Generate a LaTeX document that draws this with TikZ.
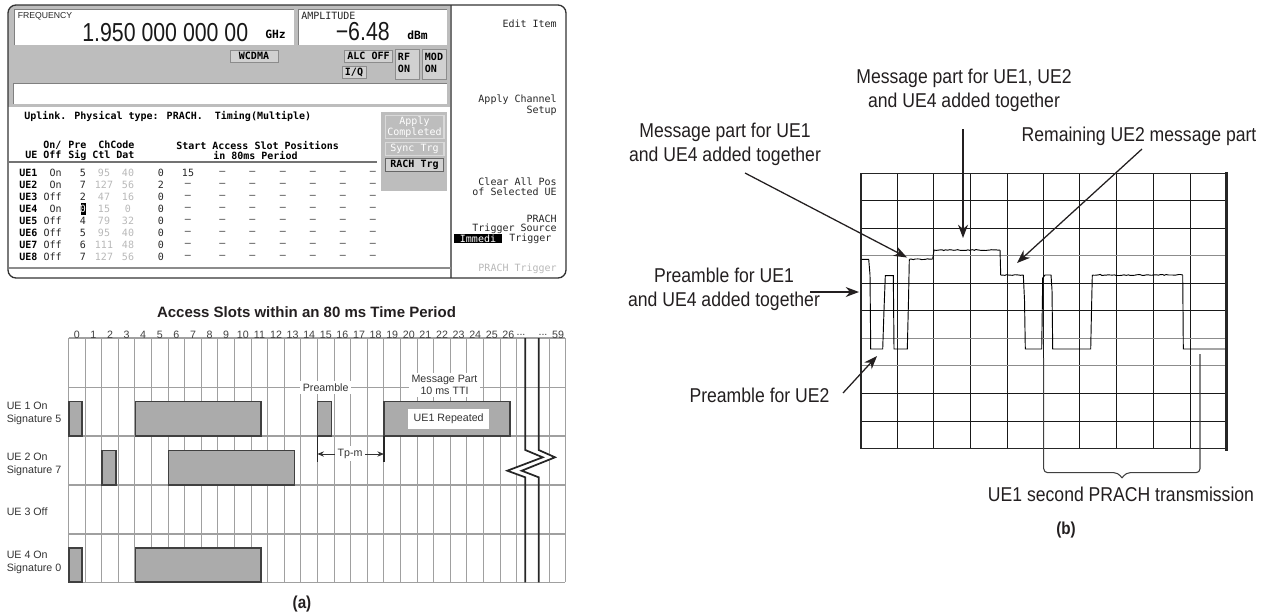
\documentclass[tikz,border=0pt]{standalone}
\usepackage{fontspec}
\setmainfont{Liberation Sans}
\newfontfamily\monof{DejaVu Sans Mono}
\newfontfamily\condf[FakeStretch=0.88]{Liberation Sans}
\newfontfamily\tallf[FakeStretch=0.82]{Liberation Sans}
\usetikzlibrary{arrows.meta,decorations.pathmorphing}
\definecolor{panelgray}{HTML}{BDBDBD}
\definecolor{bargray}{HTML}{ABABAB}
\definecolor{gridgray}{HTML}{A0A0A0}
\definecolor{dimtext}{HTML}{B8B8B8}
\definecolor{ink}{HTML}{231F20}
\tikzset{
 x=0.75pt,y=-0.75pt,
 mt/.style={inner sep=0pt,font=\monof\fontsize{7.5}{9}\selectfont,text=black!85},
 mb/.style={inner sep=0pt,font=\monof\bfseries\fontsize{7.5}{9}\selectfont,text=black},
 dim/.style={mt,text=dimtext},
 btn/.style={fill=panelgray!70!white,draw=black!45,line width=0.7pt},
 lab/.style={inner sep=0pt,font=\fontsize{8}{9.6}\selectfont,text=black!80,anchor=west},
 tick/.style={inner sep=0pt,font=\fontsize{8}{9.6}\selectfont,text=black!75},
 bar/.style={fill=bargray,draw=black!75,line width=0.85pt},
 gline/.style={draw=gridgray,line width=0.8pt},
 note/.style={inner sep=0pt,font=\condf\fontsize{15}{18}\selectfont,text=ink,align=center},
 callout/.style={draw=ink,line width=0.95pt,-{Stealth[length=10pt,width=7.5pt]}},
 scopeline/.style={draw=black!90,line width=0.55pt},
 scopegray/.style={draw=black!45,line width=0.8pt},
 trace/.style={draw=black,line width=0.7pt},
 noisy/.style={trace,decorate,decoration={random steps,segment length=1.5pt,amplitude=0.4pt}},
 breakline/.style={draw=black!85,line width=1.3pt,line join=miter},
 tparrow/.style={draw=black!80,line width=0.7pt,-{Stealth[length=5pt,width=4pt]}},
}
\begin{document}
\begin{tikzpicture}
\useasboundingbox (0,0) rectangle (1266,615);
% ---------- instrument screen
\begin{scope}
 \clip[rounded corners=6pt] (8,5) rectangle (566,278);
 \fill[panelgray] (8,5) rectangle (451,107);
\end{scope}
\fill[white] (14,9) rectangle (294,45);
\fill[white] (298,9) rectangle (447,45);
\fill[white] (13,83) rectangle (447,104);
\draw[black!50,line width=0.6pt] (14,45)--(14,9)--(294,9);
\draw[black!50,line width=0.6pt] (298,45)--(298,9)--(447,9);
\draw[black!50,line width=0.6pt] (13,104)--(13,83)--(447,83);
\draw[black!55,line width=0.9pt] (451,5)--(451,278);
\draw[black!80,line width=1pt,rounded corners=6pt] (8,5) rectangle (566,278);
\node[inner sep=0pt,anchor=west,font=\fontsize{6.5}{8}\selectfont,text=black!85] (freqlab) at (17.5,16) {FREQUENCY};
\node[inner sep=0pt,anchor=west,font=\tallf\fontsize{19.5}{22}\selectfont,text=black!90] (freqval) at (82,33) {1.950 000 000 00};
\node[mb,anchor=west,font=\monof\bfseries\fontsize{8.5}{10}\selectfont] (ghz) at (265,34) {GHz};
\node[mt,anchor=west,font=\monof\fontsize{7.5}{8}\selectfont] (amplab) at (301,16) {AMPLITUDE};
\node[inner sep=0pt,anchor=east,font=\tallf\fontsize{19.5}{22}\selectfont,text=black!90] (ampval) at (390,32) {−6.48};
\node[mb,anchor=west,font=\monof\bfseries\fontsize{8.5}{10}\selectfont] (dbm) at (407,35) {dBm};
\node[btn,minimum width=36pt,minimum height=9pt,inner sep=0pt,font=\monof\bfseries\fontsize{7.5}{8}\selectfont] (wcdma) at (254,56) {WCDMA};
\node[btn,minimum width=36.5pt,minimum height=9pt,inner sep=0pt,font=\monof\bfseries\fontsize{7.5}{9}\selectfont] (alc) at (368.5,56) {ALC OFF};
\node[btn,minimum width=18pt,minimum height=9.5pt,inner sep=0pt,font=\monof\bfseries\fontsize{7.5}{9}\selectfont] (iq) at (354,72.5) {I/Q};
\node[btn,minimum width=17.5pt,minimum height=22.5pt] (rf) at (407.5,64) {};
\node[btn,minimum width=18pt,minimum height=22.5pt] (mod) at (434,64) {};
\node[mb,align=left] (rft) at (404,62.5) {RF\\ON};
\node[mb,align=left] (modt) at (434,62.5) {MOD\\ON};
\node[mb,anchor=west] (head) at (24,116) {Uplink. Physical type: PRACH.\ \ Timing(Multiple)};
% side block
\fill[panelgray] (381,112) rectangle (447,191);
\node[draw=white!85!black,line width=1pt,fill=panelgray,minimum width=44pt,minimum height=17.5pt,inner sep=0pt,align=center,font=\monof\fontsize{7.5}{8.5}\selectfont,text=white] (applyc) at (414.5,127) {Apply\\Completed};
\node[draw=white!85!black,line width=1pt,fill=panelgray,minimum width=44pt,minimum height=9.5pt,inner sep=0pt,font=\monof\fontsize{7.5}{9}\selectfont,text=white] (sync) at (414.5,149) {Sync Trg};
\node[btn,draw=black!60,minimum width=44pt,minimum height=9.5pt,inner sep=0pt,font=\monof\bfseries\fontsize{7.5}{9}\selectfont] (rach) at (414.5,165) {RACH Trg};
% column headers
\node[mb,anchor=west] (h1a) at (43,145) {On/};
\node[mb,anchor=west] (h1b) at (68,145) {Pre};
\node[mb,anchor=west] (h1c) at (98,145) {ChCode};
\node[mb,anchor=west] (h1d) at (176,145.5) {Start Access Slot Positions};
\node[mb,anchor=west] (h2a) at (25,155) {UE};
\node[mb,anchor=west] (h2b) at (43,155) {Off};
\node[mb,anchor=west] (h2c) at (68,155) {Sig};
\node[mb,anchor=west] (h2d) at (92,155) {Ctl};
\node[mb,anchor=west] (h2e) at (116,155) {Dat};
\node[mb,anchor=west] (h2f) at (213,155) {in 80ms Period};
\draw[black!55,line width=0.8pt] (9,162)--(377,162);
\draw[black!45,line width=0.8pt] (9,268)--(451,268);
\foreach \i/\st/\sg/\cc/\dd/\ss in {1/On/5/95/40/0,2/On/7/127/56/2,3/Off/2/47/16/0,4/On/0/15/0/0,5/Off/4/79/32/0,6/Off/5/95/40/0,7/Off/6/111/48/0,8/Off/7/127/56/0}{
 \pgfmathsetmacro{\yy}{172.5+12.1*(\i-1)}
 \node[mb,anchor=west] (ue\i) at (19,\yy) {UE\i};
 \node[mt,anchor=east] (st\i) at (62,\yy) {\st};
 \node[mt] (sg\i) at (83,\yy) {\sg};
 \node[dim] (cc\i) at (104,\yy) {\cc};
 \node[dim] (dd\i) at (128,\yy) {\dd};
 \node[mt] (ss\i) at (161,\yy) {\ss};
 \foreach \xx/\kk in {222.5/a,252.5/b,283/c,313/d,343/e,373/f}{
  \node[mt] (ds\i\kk) at (\xx,\yy) {–};
 }
 \ifnum\i=1\else\node[mt] (dz\i) at (188,\yy) {–};\fi
}
\node[mt] (st15) at (188,172.5) {15};
\fill[black] (80.7,203.2) rectangle (85.5,215);
\node[mt,text=white] (cursor) at (83,209) {0};
\foreach \nm/\yy/\tx in {ma/24/Edit Item,mb/100/Apply Channel,mc/110.5/Setup,md/182/Clear All Pos,me/192/of Selected UE,mf/219/PRACH,mg/229/Trigger Source}{
 \node[mt,anchor=east] (\nm) at (557,\yy) {\tx};
}
\fill[black] (454,233.5) rectangle (502,243);
\node[mt,text=white] (immedi) at (478,238.5) {Immedi};
\node[mt,anchor=west] (trgw) at (509,238.5) {Trigger};
\node[dim,anchor=east] (prachtrg) at (557,269) {PRACH Trigger};
% ---------- access slot chart
\node[inner sep=0pt,font=\bfseries\fontsize{11.25}{13}\selectfont,text=ink] (title) at (306.5,312) {Access Slots within an 80 ms Time Period};
\foreach \k in {0,...,27}{
 \pgfmathsetmacro{\xx}{68.5+16.6*\k}
 \draw[gline] (\xx,338)--(\xx,582.3);
}
\foreach \xx in {549.3,565.3}{\draw[gline] (\xx,338)--(\xx,582.3);}
\foreach \yy in {338,387.3,436,485,534,582.3}{\draw[gline] (68.5,\yy)--(565.3,\yy);}
\foreach \k in {0,...,26}{
 \pgfmathsetmacro{\xx}{68.5+16.6*\k+8.3}
 \node[tick] (n\k) at (\xx,334.5) {\k};
}
\node[tick] (dotsa) at (521,334.5) {...};
\node[tick] (dotsb) at (543,334.5) {...};
\node[tick] (n59) at (558,334.5) {59};
\foreach \nm/\xa/\ya/\xb/\yb in {b1/69/401.3/82/436,b2/135.3/401.3/261/436,b3/317.3/401.3/331.3/436,b4/384/401.3/510/436,b5/102/450.7/116/485,b6/168.3/450.7/294.3/485,b7/69/548/82/582,b8/135.3/548/261/582}{
 \draw[bar] (\xa,\ya) rectangle (\xb,\yb);
}
\node[fill=white,inner sep=0pt,minimum width=60.5pt,minimum height=14.5pt,font=\fontsize{8}{9.6}\selectfont,text=black!80] (rep) at (448.7,419) {UE1 Repeated};
\node[fill=white,inner sep=2pt,font=\fontsize{8}{9.6}\selectfont,text=black!80] (pre) at (325.7,387.3) {Preamble};
\node[fill=white,inner sep=2pt,align=center,font=\fontsize{8}{9}\selectfont,text=black!80] (msg) at (444.5,385) {Message Part\\10 ms TTI};
\coordinate (tpa) at (317.3,454);
\coordinate (tpb) at (384,454);
\draw[draw=black!85,line width=1pt] (317.3,436)--(317.3,461.7);
\draw[draw=black!85,line width=1pt] (384,436)--(384,461.7);
\node[fill=white,inner sep=2pt,font=\fontsize{8}{9.6}\selectfont,text=black!80] (tpm) at (350,453.5) {Tp-m};
\draw[tparrow] (tpm.west|-tpa)--(tpa);
\draw[tparrow] (tpm.east|-tpb)--(tpb);
\fill[white] (525,450)--(542.7,457.3)--(507.3,470.7)--(525,477.3)--(539,477.3)--(521.7,470.7)--(555,457.3)--(539,450)--cycle;
\draw[breakline] (525.3,338)--(525.3,450)--(542.7,457.3)--(507.3,470.7)--(525.3,477.3)--(525.3,582.3);
\draw[breakline] (538.7,338)--(538.7,450)--(555,457.3)--(521.7,470.7)--(538.7,477.3)--(538.7,582.3);
\node[lab,align=left] (l1) at (6.5,413) {UE 1 On\\Signature 5};
\node[lab,align=left] (l2) at (6.5,464) {UE 2 On\\Signature 7};
\node[lab] (l3) at (6.5,512) {UE 3 Off};
\node[lab,align=left] (l4) at (6.5,562) {UE 4 On\\Signature 0};
\node[inner sep=0pt,font=\condf\bfseries\fontsize{13}{15}\selectfont,text=ink] (capa) at (302,604) {(a)};
% ---------- scope trace panel
\foreach \xx in {897.3,933.7,970.7,1007,1043.7,1079.7,1116.3,1153.7,1190}{\draw[scopeline] (\xx,173.3)--(\xx,448.7);}
\foreach \yy in {200.8,228.3,283.3,310.3,393.3,421}{\draw[scopeline] (861,\yy)--(1226.7,\yy);}
\foreach \yy in {255.7,338.3,365.7}{\draw[scopegray] (861,\yy)--(1226.7,\yy);}
\draw[black!85,line width=1.1pt] (861,173.3)--(1226.7,173.3);
\draw[black!85,line width=1.1pt] (861,173.3)--(861,448.7)--(1226.7,448.7);
\draw[black!85,line width=2pt] (1226.5,172)--(1226.5,450.5);
\draw[trace] (861.7,259.3)--(868.7,259.3)--(870,275)--(870.7,349)--(882.7,349)--(884,310)--(885.3,275.7)--(893.3,275.7)--(894,349)--(907.3,349)--(908.5,300)--(909.3,259.3);
\draw[noisy] (909.3,259.3)--(932.7,259);
\draw[trace] (932.7,259)--(934,250);
\draw[noisy] (934,250)--(1000,250);
\draw[trace] (1000,250)--(1000.7,275);
\draw[noisy] (1000.7,275)--(1023.3,275);
\draw[trace] (1023.3,275)--(1024.5,300)--(1025.3,349)--(1041.7,349)--(1042.7,278)--(1045,275)--(1051,275)--(1052,290)--(1052.7,349)--(1090.7,349)--(1091.5,310)--(1092.3,275);
\draw[noisy] (1092.3,275)--(1182.7,275);
\draw[trace] (1182.7,275)--(1183,310)--(1183.3,349)--(1225,349);
% callouts
\node[note] (n1) at (964,90) {Message part for UE1, UE2\\and UE4 added together};
\node[note] (n2) at (725,144.5) {Message part for UE1\\and UE4 added together};
\node[note] (n3) at (1139,136) {Remaining UE2 message part};
\node[note] (n4) at (724,289.5) {Preamble for UE1\\and UE4 added together};
\node[note] (n5) at (759.5,395) {Preamble for UE2};
\coordinate (c1a) at (963,129); \coordinate (c1b) at (963,238);
\coordinate (c2a) at (745,173); \coordinate (c2b) at (907,257.5);
\coordinate (c3a) at (1142,149); \coordinate (c3b) at (1017,263);
\coordinate (c4a) at (810,292); \coordinate (c4b) at (859,292);
\coordinate (c5a) at (843,393); \coordinate (c5b) at (877,356);
\draw[callout] (c1a)--(c1b);
\draw[callout] (c2a)--(c2b);
\draw[callout] (c3a)--(c3b);
\draw[callout] (c4a)--(c4b);
\draw[callout] (c5a)--(c5b);
\coordinate (bra) at (1043.7,358);
\coordinate (brb) at (1200,354);
\draw[draw=black!75,line width=0.8pt,rounded corners=3pt] (bra)--(1043.7,472.7)--(1118,472.7)--(1122,478);
\draw[draw=black!75,line width=0.8pt,rounded corners=3pt] (brb)--(1200,472.7)--(1126,472.7)--(1122,478);
\node[note] (n6) at (1121,494) {UE1 second PRACH transmission};
\node[inner sep=0pt,font=\condf\bfseries\fontsize{13}{15}\selectfont,text=ink] (capb) at (1066,530) {(b)};
\end{tikzpicture}
\end{document}
